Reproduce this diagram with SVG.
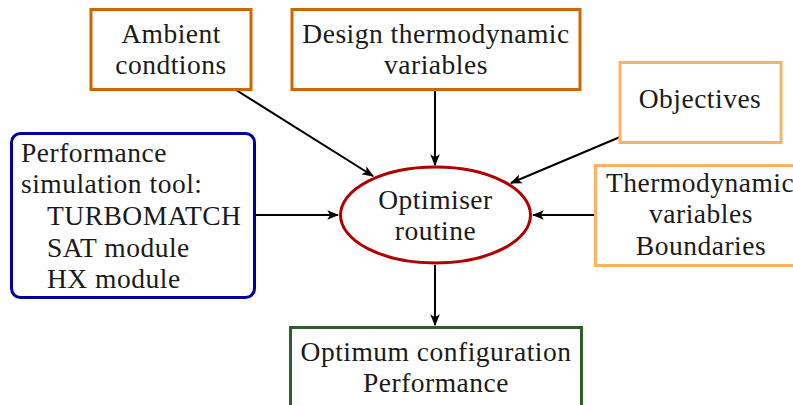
<svg xmlns="http://www.w3.org/2000/svg" width="793" height="405" viewBox="0 0 793 405">
<style>
text{font-family:"Liberation Serif",serif;font-size:27.5px;letter-spacing:0.5px;fill:#1a1a1a}
.c{text-anchor:middle}
.box{fill:#fff;stroke-width:3}
.dor{stroke:#CC6600}
.lor{stroke:#FDB261}
.blu{stroke:#0000A0}
.red{stroke:#B00000}
.grn{stroke:#2E5E2E}
.ed{stroke:#000;stroke-width:2;fill:none;marker-end:url(#ah)}
</style>
<defs>
<marker id="ah" viewBox="0 0 10 10" refX="9" refY="5" markerWidth="6" markerHeight="6" markerUnits="strokeWidth" orient="auto">
<path d="M0,1 L10,5 L0,9 L2.5,5 Z" fill="#000"/>
</marker>
</defs>
<g id="connectors">
<line class="ed" x1="236" y1="90" x2="373" y2="176"/>
<line class="ed" x1="435" y1="90" x2="435" y2="165"/>
<line class="ed" x1="620" y1="137" x2="511" y2="183"/>
<line class="ed" x1="255" y1="215" x2="338" y2="215"/>
<line class="ed" x1="595" y1="215" x2="533" y2="215"/>
<line class="ed" x1="435" y1="265" x2="435" y2="325"/>
</g>
<g id="ambient">
<rect class="box dor" x="91" y="9.5" width="160" height="80"/>
<text class="c" x="171" y="43">Ambient</text>
<text class="c" x="171" y="74">condtions</text>
</g>
<g id="design">
<rect class="box dor" x="292" y="9.5" width="288" height="80"/>
<text class="c" x="436" y="43">Design thermodynamic</text>
<text class="c" x="436" y="74">variables</text>
</g>
<g id="objectives">
<rect class="box lor" x="620" y="62.5" width="161" height="80"/>
<text class="c" x="700" y="108">Objectives</text>
</g>
<g id="thermo">
<rect class="box lor" x="595.5" y="165.5" width="210" height="100"/>
<text class="c" x="700" y="192">Thermodynamic</text>
<text class="c" x="701" y="223">variables</text>
<text class="c" x="701" y="255">Boundaries</text>
</g>
<g id="performance">
<rect class="box blu" x="11.5" y="133.5" width="243" height="164" rx="9"/>
<text x="21" y="162">Performance</text>
<text x="21" y="193">simulation tool:</text>
<text x="47" y="225">TURBOMATCH</text>
<text x="47" y="257">SAT module</text>
<text x="47" y="288">HX module</text>
</g>
<g id="optimiser">
<ellipse class="box red" cx="435.5" cy="215" rx="95" ry="48"/>
<text class="c" x="435.5" y="209">Optimiser</text>
<text class="c" x="435.5" y="240">routine</text>
</g>
<g id="optimum">
<rect class="box grn" x="290.5" y="327.5" width="291" height="100"/>
<text class="c" x="436" y="361">Optimum configuration</text>
<text class="c" x="436" y="392">Performance</text>
</g>
</svg>
